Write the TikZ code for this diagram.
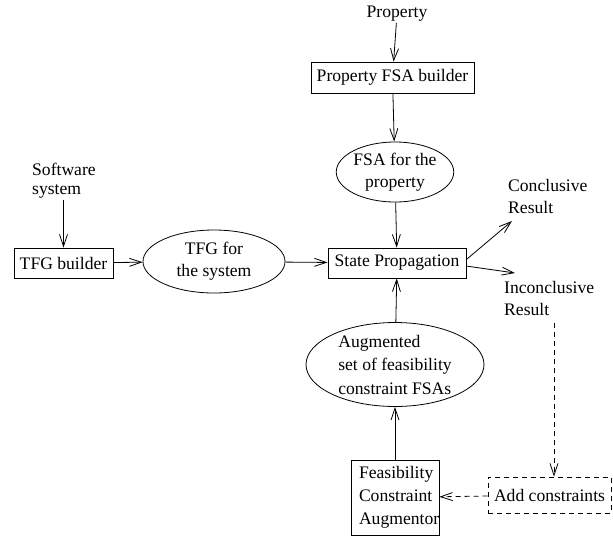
\documentclass[tikz,border=0pt]{standalone}
\usepackage{fontspec}
\setmainfont{Liberation Serif}
\usetikzlibrary{arrows.meta,shapes.geometric}
\begin{document}
\begin{tikzpicture}[x=1pt,y=-1pt,
  every node/.style={font=\fontsize{17.6}{22}\selectfont, inner sep=1pt},
  box/.style={draw, line width=0.8pt, minimum width=#1, minimum height=30pt, inner sep=0pt},
  blob/.style={draw, ellipse, line width=0.8pt, align=center, inner sep=0pt},
  plain/.style={align=left},
  flow/.style={line width=0.8pt, -{Straight Barb[length=12pt,width=8pt,line width=0.8pt]}},
  dashflow/.style={flow, dash pattern=on 5pt off 4pt}
]
\useasboundingbox (0,0) rectangle (613,536);

% property branch
\node (prop) at (397,14) {Property};
\node[box=163pt, minimum height=31pt] (pfb) at (392.5,77.5) {Property FSA builder};
\node[blob, minimum width=116pt, minimum height=60pt] (fsa) at (395,172) {FSA for the\\property};

% central step
\node[box=138pt] (sp) at (397,263) {State Propagation};

% system branch
\node[plain, font=\fontsize{17.6}{19}\selectfont, anchor=west] (sw) at (31,181) {Software\\system};
\node[box=99pt] (tfgb) at (63.5,263) {TFG builder};
\node[blob, minimum width=142pt, minimum height=63pt] (tfg) at (214,261.5) {TFG for\\the system};

% results
\node[plain, anchor=west] (conc) at (507,196.5) {Conclusive\\Result};
\node[plain, anchor=west] (inc) at (503,298.5) {Inconclusive\\Result};

% constraint loop
\node[blob, minimum width=178pt, minimum height=73pt, font=\fontsize{17.6}{23.5}\selectfont, align=left] (aug) at (395,364.5) {Augmented\\set of feasibility\\constraint FSAs};
\node[draw, line width=0.8pt, minimum width=88pt, minimum height=75pt, inner xsep=8pt, inner ysep=0pt, text width=72pt, align=left, font=\fontsize{17.6}{23}\selectfont] (fca) at (395,497.5) {Feasibility\\Constraint\\Augmentor};
\node[draw, line width=0.8pt, dash pattern=on 5pt off 4pt, minimum width=123pt, minimum height=36pt, inner sep=0pt] (add) at (549.5,495) {Add constraints};

\coordinate (concS) at (467,259);
\coordinate (concE) at (512,221);
\coordinate (incS) at (466,266);
\coordinate (incE) at (515,273);
\coordinate (loopS) at (554,323);

\draw[flow] (prop) -- (pfb);
\draw[flow] (pfb) -- (fsa);
\draw[flow] (fsa) -- (sp);
\draw[flow] (sw.south -| tfgb.north) -- (tfgb);
\draw[flow] (tfgb) -- (tfg);
\draw[flow] (tfg) -- (sp);
\draw[flow] (concS) -- (concE);
\draw[flow] (incS) -- (incE);
\draw[flow] (aug) -- (sp);
\draw[flow] (fca) -- (aug);
\draw[dashflow] (loopS) -- (loopS |- add.north);
\draw[dashflow] (add) -- (fca);
\end{tikzpicture}
\end{document}
